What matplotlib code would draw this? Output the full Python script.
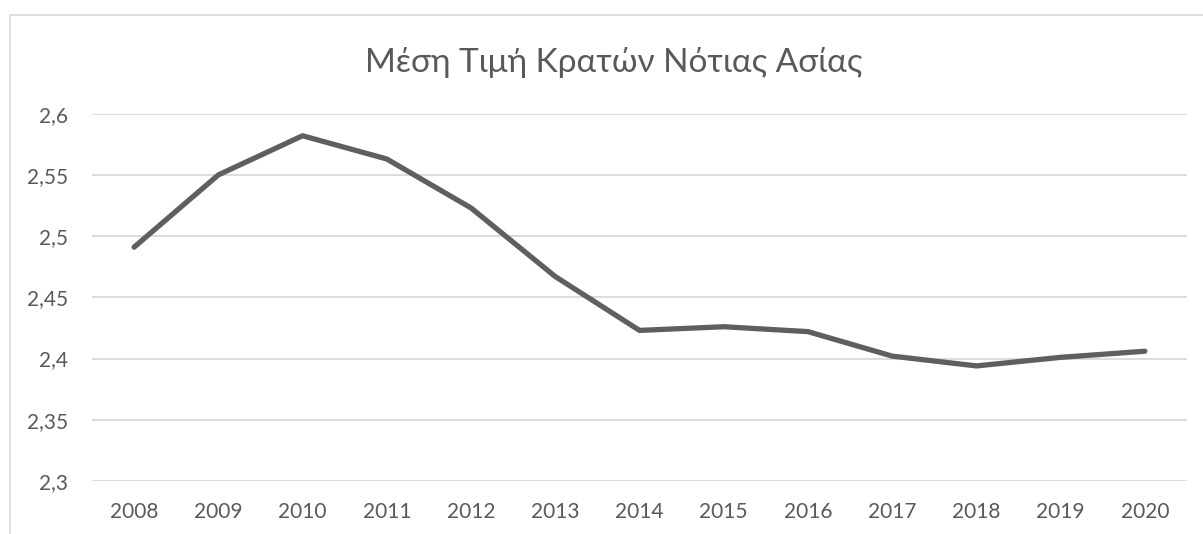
import matplotlib
matplotlib.use("Agg")
import matplotlib.pyplot as plt
from matplotlib.ticker import FuncFormatter
from matplotlib.patches import Rectangle

years = ["2008", "2009", "2010", "2011", "2012", "2013", "2014",
         "2015", "2016", "2017", "2018", "2019", "2020"]
values = [2.491, 2.550, 2.582, 2.563, 2.523, 2.467, 2.423,
          2.426, 2.422, 2.402, 2.394, 2.401, 2.406]
yticks = [2.3, 2.35, 2.4, 2.45, 2.5, 2.55, 2.6]
title = "Μέση Τιμή Κρατών Νότιας Ασίας"

plt.rcParams['font.family'] = ['Lato', 'Open Sans', 'DejaVu Sans']
text_color = "#595959"
grid_color = "#d9d9d9"

W, H = 1203, 534
fig = plt.figure(figsize=(W / 100, H / 100), dpi=100)
fig.patch.set_facecolor("white")

# chart border (cut off at right/bottom like the screenshot)
fig.patches.append(Rectangle((10 / W, -0.1), 1.2, (H - 15) / H + 0.1,
                             transform=fig.transFigure, fill=False,
                             edgecolor=grid_color, linewidth=1.2))

ax = fig.add_axes([92 / W, (H - 481) / H, (1187 - 92) / W, (481 - 113.7) / H])
x = list(range(len(years)))
ax.plot(x, values, color="#5f5f5f", linewidth=3.8, solid_capstyle="round",
        solid_joinstyle="round", zorder=3)

ax.set_xlim(-0.5, len(years) - 0.5)
ax.set_ylim(2.3, 2.6)
ax.set_yticks(yticks)
ax.set_xticks(x)
ax.set_xticklabels(years)
ax.yaxis.set_major_formatter(FuncFormatter(lambda v, p: f"{v:g}".replace(".", ",")))
ax.grid(axis="y", color=grid_color, linewidth=1.3)
ax.set_axisbelow(True)
for s in ax.spines.values():
    s.set_visible(False)
ax.tick_params(length=0, labelsize=15, colors=text_color)
ax.tick_params(axis="y", pad=17)
ax.tick_params(axis="x", pad=15)

fig.text(614 / W, (H - 63) / H, title, ha="center", va="center",
         fontsize=24, color=text_color)

fig.savefig("out.png", dpi=100)
